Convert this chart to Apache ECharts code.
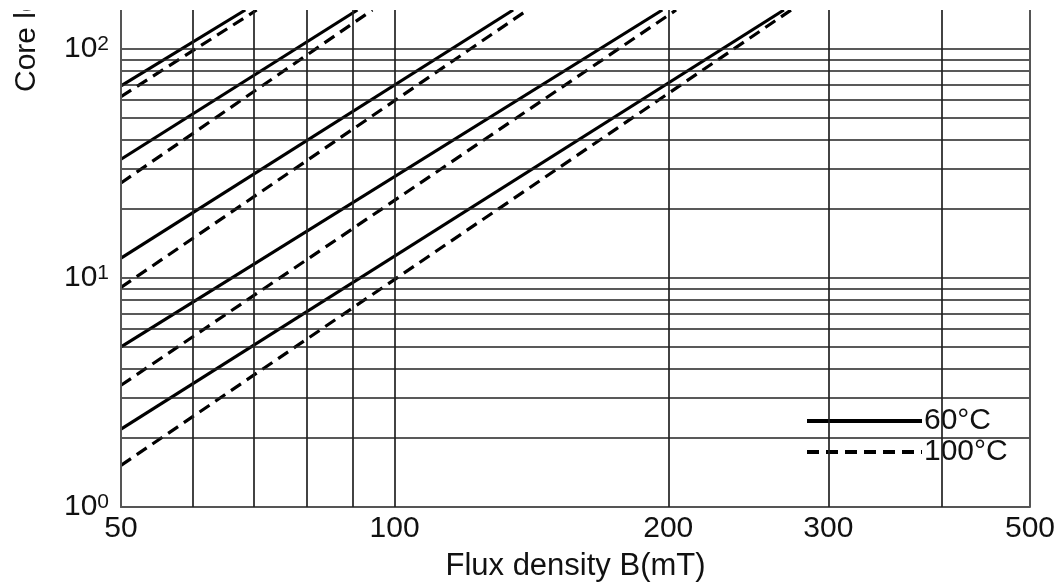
<!DOCTYPE html>
<html>
<head>
<meta charset="utf-8">
<style>
  html, body { margin: 0; padding: 0; background: #fff; }
  #chart { width: 1059px; height: 587px; }
</style>
<script src="https://cdn.jsdelivr.net/npm/echarts@6/dist/echarts.min.js"></script>
</head>
<body>
<div id="chart"></div>
<script>
// core loss vs flux density (log-log), 60°C solid / 100°C dashed
var xLabels = [50, 100, 200, 300, 500];
var xGridLines = [60, 70, 80, 90, 400];
var yGridLines = [2, 3, 4, 5, 6, 7, 8, 9, 10, 20, 30, 40, 50, 60, 70, 80, 90, 100];
var yTop = 148;

// each curve: [B at left edge, loss], [B where it runs out of the top, loss]
var curves60 = [
  [[50, 69], [68.5, 148]],
  [[50, 33], [91, 148]],
  [[50, 12.2], [135, 148]],
  [[50, 5.0], [197, 148]],
  [[50, 2.19], [268, 148]]
];
var curves100 = [
  [[50, 62], [70.5, 148]],
  [[50, 26], [94.5, 148]],
  [[50, 9.1], [140, 148]],
  [[50, 3.4], [204, 148]],
  [[50, 1.52], [273, 148]]
];

var font = 'Liberation Sans';
var ink = '#111';
var gridColor = '#222';
var edgeColor = '#555';

var chart = echarts.init(document.getElementById('chart'));

// grid lines + x tick labels as mark lines so they follow the log scales
var marks = [];
xGridLines.forEach(function (v) {
  marks.push({ xAxis: v });
});
yGridLines.forEach(function (v) {
  marks.push({ yAxis: v });
});
xLabels.forEach(function (v) {
  var edge = (v === xLabels[0] || v === xLabels[xLabels.length - 1]);
  marks.push({
    xAxis: v,
    lineStyle: edge ? { color: edgeColor, width: 2 } : undefined,
    label: {
      show: true,
      position: 'start',
      distance: 7,
      formatter: String(v),
      fontSize: 30,
      fontFamily: font,
      color: ink
    }
  });
});

var series = [{
  name: 'grid',
  type: 'line',
  data: [],
  z: 1,
  silent: true,
  markLine: {
    silent: true,
    symbol: 'none',
    animation: false,
    lineStyle: { color: gridColor, width: 1.7, type: 'solid' },
    label: { show: false },
    emphasis: { disabled: true },
    data: marks
  }
}];

curves60.forEach(function (c) {
  series.push({
    name: '60°C',
    type: 'line',
    data: c,
    symbol: 'none',
    z: 3,
    itemStyle: { color: '#000' },
    lineStyle: { color: '#000', width: 3.2, type: 'solid' }
  });
});
curves100.forEach(function (c) {
  series.push({
    name: '100°C',
    type: 'line',
    data: c,
    symbol: 'none',
    z: 3,
    itemStyle: { color: '#000' },
    lineStyle: { color: '#000', width: 3.2, type: [12, 7] }
  });
});

var option = {
  animation: false,
  backgroundColor: '#fff',
  grid: { left: 121, right: 29, top: 10, bottom: 80 },
  legend: {
    data: ['60°C', '100°C'],
    orient: 'vertical',
    left: 798,
    top: 404,
    backgroundColor: '#fff',
    padding: [2, 8, 2, 7],
    itemWidth: 115,
    itemHeight: 14,
    itemGap: 1,
    selectedMode: false,
    itemStyle: { opacity: 0 },
    lineStyle: { width: 4 },
    textStyle: { fontSize: 30, fontFamily: font, color: ink, padding: [0, 0, 0, -3] }
  },
  xAxis: {
    type: 'log',
    logBase: 10,
    min: 50,
    max: 500,
    name: 'Flux density B(mT)',
    nameLocation: 'middle',
    nameGap: 44,
    nameTextStyle: { fontSize: 31, fontFamily: font, color: ink },
    axisLine: { show: true, lineStyle: { color: edgeColor, width: 2 } },
    axisTick: { show: false },
    axisLabel: { show: false },
    splitLine: { show: false },
    minorSplitLine: { show: false }
  },
  yAxis: {
    type: 'log',
    logBase: 10,
    min: 1,
    max: yTop,
    axisLine: { show: true, lineStyle: { color: edgeColor, width: 2 } },
    axisTick: { show: false },
    splitLine: { show: false },
    axisLabel: {
      margin: 12,
      formatter: function (v) {
        var e = Math.log10(v);
        if (Math.abs(e - Math.round(e)) > 1e-6) return '';
        return '{b|10}{s|' + Math.round(e) + '}';
      },
      rich: {
        b: { fontSize: 30, fontFamily: font, color: ink },
        s: { fontSize: 21, fontFamily: font, color: ink, verticalAlign: 'top' }
      }
    }
  },
  graphic: [
    {
      type: 'text',
      x: 27,
      y: 92,
      rotation: Math.PI / 2,
      style: {
        text: 'Core loss Pcv(kW/m³)',
        fontSize: 30,
        fontFamily: font,
        fill: ink,
        align: 'left',
        verticalAlign: 'middle'
      }
    },
    {
      type: 'rect',
      z: 100,
      shape: { x: 0, y: 0, width: 1059, height: 10 },
      style: { fill: '#fff' }
    }
  ],
  series: series
};

chart.setOption(option);
</script>
</body>
</html>
